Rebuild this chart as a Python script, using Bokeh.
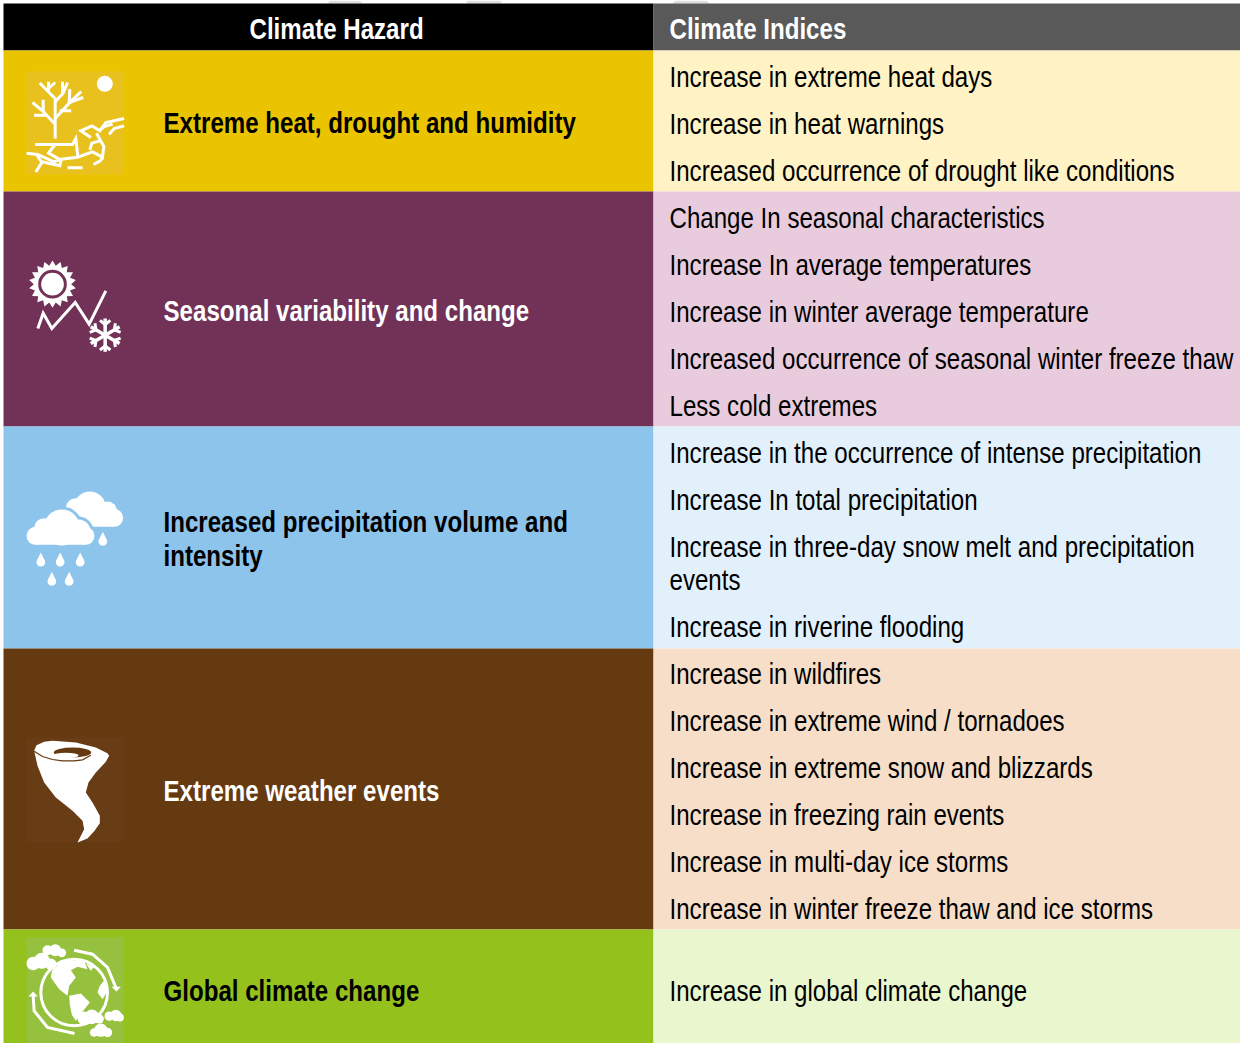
import math
from bokeh.plotting import figure
from bokeh.models import Range1d, CustomJS
from bokeh.io import curdoc
from bokeh.core.properties import value
from bokeh.embed import file_html
from bokeh.resources import INLINE

FONT = "Liberation Sans"
NARROW = 0.82
SIZE = 29.4

headers = ["Climate Hazard", "Climate Indices"]
hazards = [
    ["Extreme heat, drought and humidity"],
    ["Seasonal variability and change"],
    ["Increased precipitation volume and", "intensity"],
    ["Extreme weather events"],
    ["Global climate change"],
]
indices = [
    ["Increase in extreme heat days", "Increase in heat warnings",
     "Increased occurrence of drought like conditions"],
    ["Change In seasonal characteristics", "Increase In average temperatures",
     "Increase in winter average temperature",
     "Increased occurrence of seasonal winter freeze thaw", "Less cold extremes"],
    ["Increase in the occurrence of intense precipitation", "Increase In total precipitation",
     "Increase in three-day snow melt and precipitation\nevents", "Increase in riverine flooding"],
    ["Increase in wildfires", "Increase in extreme wind / tornadoes",
     "Increase in extreme snow and blizzards", "Increase in freezing rain events",
     "Increase in multi-day ice storms", "Increase in winter freeze thaw and ice storms"],
    ["Increase in global climate change"],
]
row_edges = [58, 199, 434, 656, 937, 1051]
dark_colors = ["#EAC400", "#723257", "#8DC4EC", "#663A10", "#95C11C"]
light_colors = ["#FFF2C4", "#E8CCDD", "#E1F0FB", "#F6DEC9", "#E9F6CE"]
hazard_text_colors = ["#000000", "#FFFFFF", "#000000", "#FFFFFF", "#000000"]

LEFT, SPLIT, RIGHT, TOP = 11, 661, 1248, 11
p = figure(width=1240, height=1043, output_backend="svg", toolbar_location=None,
           x_range=Range1d(8, 1248), y_range=Range1d(1051, 8), min_border=0,
           outline_line_color=None, background_fill_color="#FFFFFF")
p.axis.visible = False
p.grid.visible = False


def rect(x0, x1, y0, y1, c):
    p.quad(left=[x0], right=[x1], top=[y0], bottom=[y1], fill_color=c, line_color=None)


def txt(x, y, s, bold=False, color="#000000"):
    p.text([x], [y], text=[s], text_font=value(FONT), text_font_size=f"{SIZE}px",
           text_font_style="bold" if bold else "normal", text_color=color,
           text_align="left", text_baseline="middle")


for a, b, c, d in [(338, 367, 335, 370), (476, 507, 473, 510), (683, 714, 680, 717)]:
    p.patch([a, b, d, c], [8, 8, 11, 11], fill_color="#DEDEDE", line_color=None)

rect(LEFT, SPLIT, TOP, row_edges[0], "#000000")
rect(SPLIT, RIGHT, TOP, row_edges[0], "#595959")
txt(257, 36, headers[0], bold=True, color="#FFFFFF")
txt(677, 36, headers[1], bold=True, color="#FFFFFF")

for i in range(5):
    y0, y1 = row_edges[i], row_edges[i + 1]
    rect(LEFT, SPLIT, y0, y1, dark_colors[i])
    rect(SPLIT, RIGHT, y0, y1, light_colors[i])
    # the last row runs past the bottom of the picture, so its text sits lower
    mid = (y0 + y1) / 2 if i < 4 else 997
    lines = hazards[i]
    for k, s in enumerate(lines):
        txt(171, mid + (k - (len(lines) - 1) / 2) * 34 + 1.5, s, bold=True, color=hazard_text_colors[i])
    if i == 4:
        txt(677, mid + 1, indices[i][0])
        continue
    y = y0 + (25 if i == 3 else 26)
    for s in indices[i]:
        parts = s.split("\n")
        for k, part in enumerate(parts):
            txt(677, y + k * 33, part)
        y += 47 + (len(parts) - 1) * 33


def icon(ox, oy):
    fx = lambda v: ox + v / 3
    fy = lambda v: oy + v / 3

    def line(pts, w=3, c="#FFFFFF"):
        p.line([fx(a) for a, b in pts], [fy(b) for a, b in pts], line_color=c, line_width=w,
               line_join="miter", line_cap="butt")

    def poly(pts, c="#FFFFFF"):
        p.patch([fx(a) for a, b in pts], [fy(b) for a, b in pts], fill_color=c, line_color=None)

    def circ(x, y, r, c="#FFFFFF"):
        p.circle([fx(x)], [fy(y)], radius=r / 3, fill_color=c, line_color=None)

    return line, poly, circ


W = "#FFFFFF"
# heat
rect(34, 131, 79, 182, "#E8C11F")
line, poly, circ = icon(20, 70)
circ(277, 64, 24)
for pts in [
    [(128, 228), (128, 108), (82, 62)], [(108, 85), (108, 58)], [(108, 78), (128, 60)],
    [(128, 118), (152, 92), (165, 60)], [(150, 92), (150, 58)],
    [(128, 168), (170, 122), (206, 87)], [(170, 122), (172, 80)], [(170, 120), (212, 105)],
    [(142, 145), (176, 145)], [(128, 185), (90, 145), (60, 120)], [(92, 148), (92, 112)],
    [(100, 158), (65, 158)],
    [(68, 246), (180, 246), (190, 228), (196, 282)],
    [(42, 272), (75, 276), (125, 298), (145, 290), (195, 284), (240, 268), (270, 284), (274, 252), (252, 212)],
    [(72, 276), (88, 300), (70, 328)], [(88, 298), (142, 310), (146, 292)], [(128, 246), (108, 272), (140, 290)],
    [(165, 316), (210, 316)], [(272, 284), (262, 296), (243, 306)],
    [(235, 225), (205, 205), (238, 190), (262, 205), (280, 180), (335, 168)],
    [(290, 215), (305, 198), (335, 190)], [(262, 202), (275, 192), (300, 185)],
    [(232, 262), (238, 242), (262, 235)],
]:
    line(pts)

# seasonal
line, poly, circ = icon(20, 250)
n = 18
burst = []
for k in range(2 * n):
    r = 71 if k % 2 == 0 else 56
    a = math.pi * k / n - math.pi / 2
    burst.append((120 + r * math.cos(a), 125 + r * math.sin(a)))
poly(burst)
circ(120, 125, 43, "#723257")
circ(120, 125, 34)
line([(76, 258), (92, 212), (118, 258), (188, 180), (230, 245), (280, 145)], 3)
cx, cy = 278, 278
for k in range(6):
    a = math.pi * k / 3 + math.pi / 2
    tip = (cx + 50 * math.cos(a), cy + 50 * math.sin(a))
    line([(cx, cy), tip], 3.5)
    m = (cx + 32 * math.cos(a), cy + 32 * math.sin(a))
    for s in (-1, 1):
        line([m, (m[0] + 20 * math.cos(a + s * 0.9), m[1] + 20 * math.sin(a + s * 0.9))], 3)

# rain
line, poly, circ = icon(20, 485)


def rect_local(a, b, c, d, col):
    rect(20 + a / 3, 20 + b / 3, 485 + c / 3, 485 + d / 3, col)


def cloud(base, bumps, pad, c):
    x0, x1, y0, y1 = base
    r = (y1 - y0) / 2
    circ(x0 + r, (y0 + y1) / 2, r + pad, c)
    circ(x1 - r, (y0 + y1) / 2, r + pad, c)
    rect_local(x0 + r, x1 - r, y0 - pad, y1 + pad, c)
    for bx, by, br in bumps:
        circ(bx, by, br + pad, c)


cloud((158, 332, 94, 148), [(232, 90, 48), (285, 100, 28), (190, 92, 30)], 0, W)
front = [(148, 150, 54), (95, 152, 30), (198, 162, 36)]
cloud((42, 246, 148, 202), front, 9, "#8DC4EC")
cloud((42, 246, 148, 202), front, 0, W)
for dx, dy in [(85, 254), (143, 254), (203, 254), (118, 312), (170, 312), (271, 192)]:
    circ(dx, dy, 13)
    poly([(dx - 12.5, dy - 3), (dx - 6, dy - 17), (dx, dy - 29), (dx + 6, dy - 17), (dx + 12.5, dy - 3)])

# tornado
rect(34, 131, 745, 850, "#683C15")
line, poly, circ = icon(20, 740)
poly([(65, 55), (72, 38), (95, 28), (120, 25), (190, 30), (250, 45), (285, 62), (290, 70), (280, 88), (250, 120), (228, 150),
      (220, 180), (240, 210), (262, 250), (262, 272), (245, 296), (225, 318), (195, 330), (215, 290),
      (210, 265), (180, 235), (130, 195), (95, 150), (75, 100)])
line([(65, 56), (90, 72), (120, 81), (150, 85), (185, 85), (210, 82), (235, 68)], 1.2, "#663A10")
p.ellipse([20 + 180 / 3], [740 + 60 / 3], width=112 / 3, height=30 / 3, fill_color="#663A10", line_color=None)
p.ellipse([20 + 160 / 3], [740 + 69 / 3], width=76 / 3, height=16 / 3, fill_color=W, line_color=None)

# globe
rect(34, 131, 945, 1051, "#96C13F")
line, poly, circ = icon(20, 935)
p.circle([20 + 185 / 3], [935 + 195 / 3], radius=100 / 3, fill_color=None, line_color=W, line_width=3)
poly([(118, 130), (150, 100), (215, 100), (225, 125), (195, 118), (175, 128), (190, 150), (170, 175),
      (165, 205), (140, 185), (115, 150)])
poly([(170, 205), (205, 198), (232, 225), (212, 250), (190, 280), (178, 262), (172, 232)])
poly([(262, 175), (278, 155), (285, 190), (270, 215), (255, 195)])
poly([(220, 108), (245, 118), (235, 130)])
line([(185, 68), (240, 80), (285, 120), (310, 180)], 3)
poly([(297, 178), (325, 178), (312, 192)])
line([(62, 205), (65, 250), (105, 300), (186, 318)], 3)
poly([(48, 207), (76, 207), (62, 192)])
for bx, by, br in [(62, 108, 20), (88, 100, 24), (115, 110, 17), (105, 68, 15), (128, 68, 18), (148, 76, 13),
                   (215, 272, 20), (238, 268, 22), (260, 274, 14), (290, 266, 14), (310, 264, 17), (322, 270, 12),
                   (245, 315, 13), (265, 308, 20), (285, 315, 14)]:
    circ(bx, by, br)

# Arial-Narrow look: squeeze the real SVG text horizontally around its anchor.
squeeze = CustomJS(args=dict(s=NARROW), code="""
function walk(root, out) {
  root.querySelectorAll('*').forEach(e => {
    if (e.tagName && e.tagName.toLowerCase() === 'text') out.push(e);
    if (e.shadowRoot) walk(e.shadowRoot, out);
  });
  return out;
}
function run() {
  walk(document, []).forEach(t => {
    if (t.dataset.nw) return;
    t.dataset.nw = '1';
    const x = parseFloat(t.getAttribute('x') || '0');
    const old = t.getAttribute('transform') || '';
    t.setAttribute('transform', `${old} translate(${x},0) scale(${s},1) translate(${-x},0)`);
  });
}
let n = 0;
const h = setInterval(() => { run(); if (++n > 40) clearInterval(h); }, 50);
run();
""")
doc = curdoc()
doc.add_root(p)
doc.js_on_event("document_ready", squeeze)

open("out.html", "w").write(file_html(p, INLINE))
